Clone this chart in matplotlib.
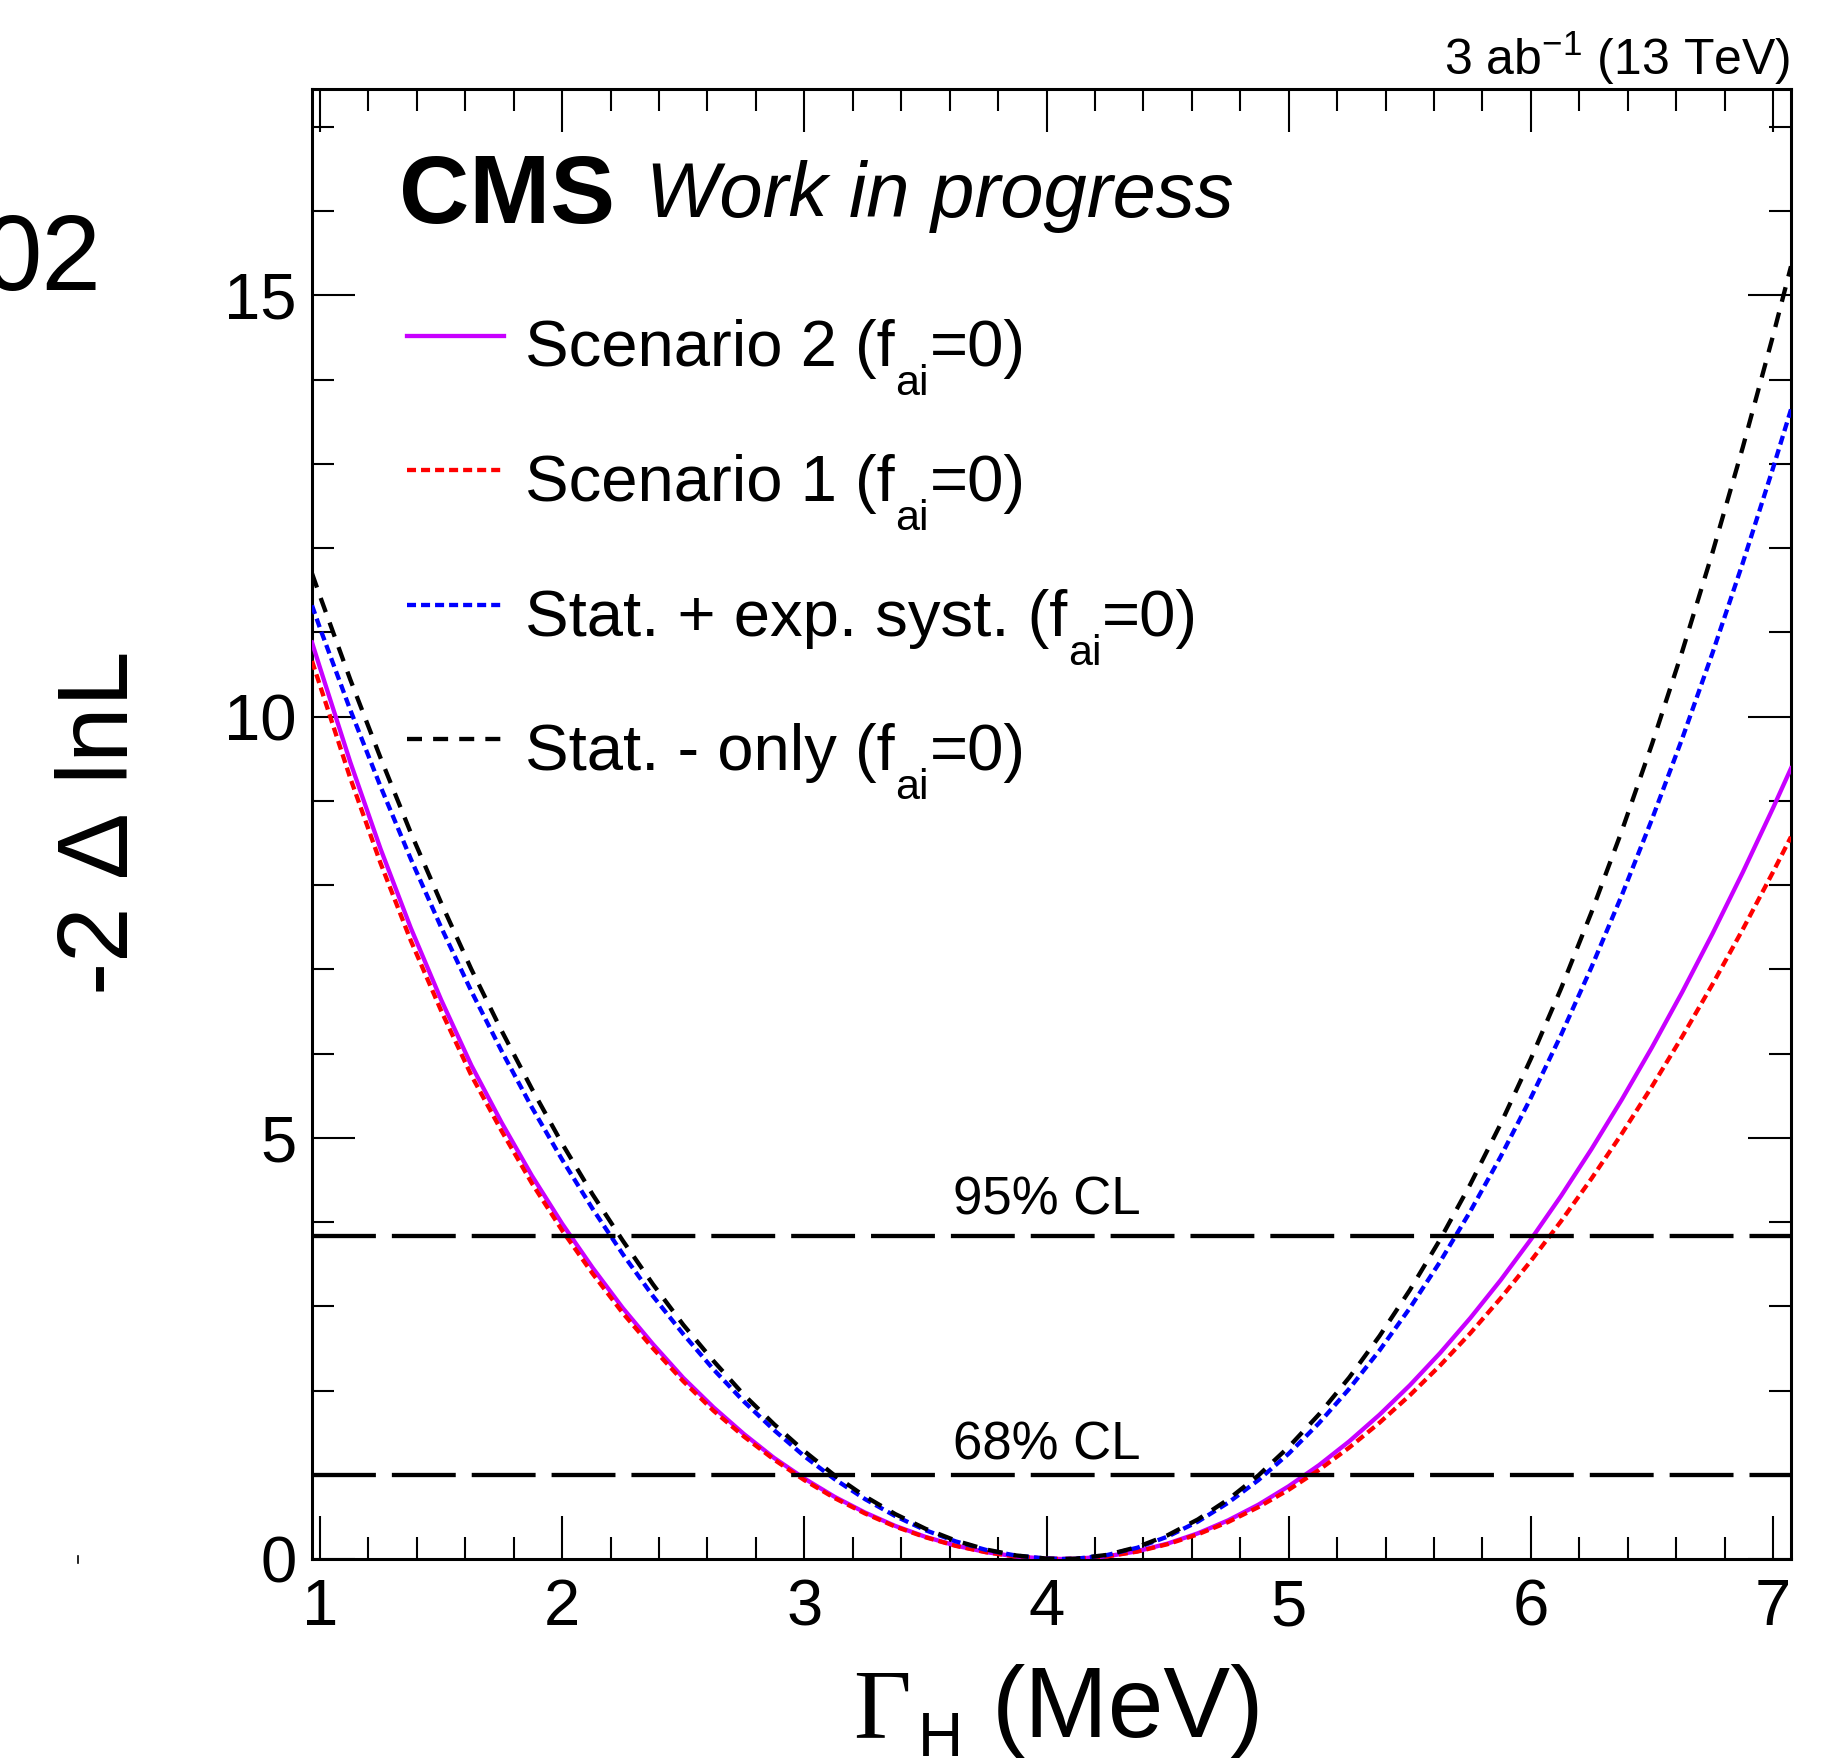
"""
-2 Delta lnL scan versus Gamma_H for the four fit scenarios (CMS style).
Output: out.png
"""

import matplotlib
import matplotlib.pyplot as plt
from matplotlib.lines import Line2D
from matplotlib.ticker import MultipleLocator

matplotlib.use("Agg")

plt.rcParams["font.family"] = ["Liberation Sans", "DejaVu Sans"]
plt.rcParams["mathtext.fontset"] = "custom"
plt.rcParams["mathtext.rm"] = "Liberation Sans"
plt.rcParams["mathtext.it"] = "Liberation Sans:italic"
plt.rcParams["mathtext.bf"] = "Liberation Sans:bold"
plt.rcParams["lines.scale_dashes"] = False

# scan points (MeV) and -2 Delta lnL values
GAMMA = [0.967, 1.0, 1.125, 1.25, 1.375, 1.5, 1.625, 1.75, 1.875, 2.0, 2.125, 2.25, 2.375,
         2.5, 2.625, 2.75, 2.875, 3.0, 3.125, 3.25, 3.375, 3.5, 3.625, 3.75, 3.875, 4.0,
         4.07, 4.125, 4.25, 4.375, 4.5, 4.625, 4.75, 4.875, 5.0, 5.125, 5.25, 5.375, 5.5,
         5.625, 5.75, 5.875, 6.0, 6.125, 6.25, 6.375, 6.5, 6.625, 6.75, 6.875, 7.0, 7.074]

SCEN2 = [10.88, 10.58, 9.46, 8.43, 7.49, 6.64, 5.86, 5.18, 4.55, 3.98, 3.46, 2.98, 2.55,
         2.15, 1.80, 1.485, 1.20, 0.955, 0.738, 0.552, 0.393, 0.263, 0.159, 0.082, 0.030, 0.004,
         0.0, 0.003, 0.032, 0.092, 0.183, 0.305, 0.459, 0.645, 0.864, 1.114, 1.397, 1.713, 2.062,
         2.445, 2.861, 3.310, 3.794, 4.312, 4.865, 5.452, 6.074, 6.731, 7.424, 8.152, 8.916, 9.386]
SCEN1 = [10.66, 10.37, 9.27, 8.26, 7.34, 6.51, 5.74, 5.08, 4.46, 3.90, 3.39, 2.92, 2.50,
         2.11, 1.76, 1.455, 1.18, 0.936, 0.723, 0.541, 0.385, 0.258, 0.156, 0.080, 0.029, 0.004,
         0.0, 0.003, 0.031, 0.088, 0.176, 0.293, 0.439, 0.616, 0.822, 1.057, 1.323, 1.618, 1.943,
         2.297, 2.681, 3.095, 3.539, 4.012, 4.515, 5.047, 5.610, 6.202, 6.823, 7.475, 8.156, 8.573]
STAT_EXP = [11.32, 11.05, 10.08, 9.17, 8.31, 7.50, 6.74, 6.03, 5.36, 4.74, 4.16, 3.62, 3.12,
            2.67, 2.25, 1.87, 1.53, 1.22, 0.948, 0.712, 0.510, 0.342, 0.209, 0.108, 0.040, 0.005,
            0.0, 0.004, 0.047, 0.134, 0.266, 0.444, 0.668, 0.937, 1.251, 1.613, 2.021, 2.476, 2.978,
            3.529, 4.128, 4.776, 5.475, 6.224, 7.024, 7.876, 8.782, 9.741, 10.756, 11.825, 12.952, 13.646]
STAT_ONLY = [11.70, 11.43, 10.44, 9.51, 8.62, 7.79, 7.00, 6.27, 5.58, 4.93, 4.33, 3.78, 3.26,
             2.78, 2.35, 1.95, 1.60, 1.28, 0.992, 0.744, 0.534, 0.359, 0.218, 0.113, 0.042, 0.005,
             0.0, 0.005, 0.049, 0.142, 0.282, 0.470, 0.707, 0.993, 1.330, 1.717, 2.155, 2.647, 3.192,
             3.792, 4.449, 5.164, 5.939, 6.776, 7.676, 8.640, 9.673, 10.775, 11.949, 13.197, 14.523, 15.345]

# legend labels split ROOT-style: head, low subscript, tail
LABEL_HEADS = ["Scenario 2 (f", "Scenario 1 (f", "Stat. + exp. syst. (f", "Stat. - only (f"]
LABEL_SUB = "ai"
LABEL_TAIL = "=0)"

CL_LEVELS = [1.0, 3.84]
CL_LABELS = ["68% CL", "95% CL"]
CL_TEXT_OFFSET = [0.18, 0.25]

MAGENTA = "#C800FF"
DOT = (0, (6.5, 3.6))
DASH = (0, (10.8, 8.0))
LW = 3.1
STYLES = [
    dict(color=MAGENTA, linestyle="-", linewidth=LW),
    dict(color="#FF0000", linestyle=DOT, linewidth=LW),
    dict(color="#0000FF", linestyle=DOT, linewidth=LW),
    dict(color="black", linestyle=DASH, linewidth=LW),
]

W, H = 1824, 1764


def main():
    fig = plt.figure(figsize=(W / 100, H / 100), dpi=100, facecolor="white")
    ax = fig.add_axes([312 / W, 1 - 1559 / H, (1791 - 312) / W, (1559 - 89) / H])

    for ys, st in zip([SCEN2, SCEN1, STAT_EXP, STAT_ONLY], STYLES):
        ax.plot(GAMMA, ys, zorder=3, **st)

    for lvl, lab, off in zip(CL_LEVELS, CL_LABELS, CL_TEXT_OFFSET):
        ax.axhline(lvl, color="black", linewidth=3.1, linestyle=(0, (46, 11.5)), zorder=4)
        ax.text(4.0, lvl + off, lab, ha="center", va="baseline", fontsize=38)

    ax.set_xlim(0.967, 7.074)
    ax.set_ylim(0, 17.45)

    ax.xaxis.set_major_locator(MultipleLocator(1))
    ax.xaxis.set_minor_locator(MultipleLocator(0.2))
    ax.yaxis.set_major_locator(MultipleLocator(5))
    ax.yaxis.set_minor_locator(MultipleLocator(1))
    ax.tick_params(which="both", direction="in", top=True, right=True, width=1.5, color="black")
    ax.tick_params(which="major", length=31, labelsize=47)
    ax.tick_params(which="minor", length=15.5)
    ax.tick_params(axis="x", which="major", pad=14)
    ax.tick_params(axis="y", which="major", pad=11)
    for spine in ax.spines.values():
        spine.set_linewidth(2.2)

    # legend, drawn by hand like the ROOT TLegend
    for i, (head, st) in enumerate(zip(LABEL_HEADS, STYLES)):
        y = 0.8323 - i * 0.0916
        ax.plot([0.0642, 0.1298], [y, y], transform=ax.transAxes, clip_on=False, **st)
        t1 = ax.text(0.1440, y - 0.021, head, transform=ax.transAxes, ha="left", va="baseline", fontsize=47)
        t2 = ax.annotate(LABEL_SUB, xy=(1, 0), xycoords=t1, xytext=(0.5, -11.5),
                         textcoords="offset points", ha="left", va="baseline", fontsize=31)
        ax.annotate(LABEL_TAIL, xy=(1, 0), xycoords=(t2, t1), xytext=(0.5, 0),
                    textcoords="offset points", ha="left", va="bottom", fontsize=47)

    ax.text(0.0588, 0.9088, "CMS", transform=ax.transAxes, fontsize=70, fontweight="bold",
            ha="left", va="baseline")
    ax.text(0.2258, 0.9129, "Work in progress", transform=ax.transAxes, fontsize=56,
            style="italic", ha="left", va="baseline")

    fig.text(1790 / W, 1 - 75 / H, r"3 ab$^{\mathrm{-1}}$ (13 TeV)", ha="right", va="baseline", fontsize=36)
    fig.text(149 / W, 0.5329, r"-2 $\Delta$ lnL", rotation=90, ha="right", va="center", fontsize=72)

    # x title: serif Gamma, sans subscript, sans unit
    fig.text(853 / W, 1 - 1737 / H, "\u0393", family="Liberation Serif", ha="left", va="baseline", fontsize=72)
    fig.text(918 / W, 1 - 1756 / H, "H", ha="left", va="baseline", fontsize=45)
    fig.text(992 / W, 1 - 1737 / H, "(MeV)", ha="left", va="baseline", fontsize=72)

    # leftovers from the original canvas
    fig.text(102 / W, 1 - 290 / H, "02", ha="right", va="baseline", fontsize=77)
    fig.add_artist(Line2D([78 / W, 78 / W], [1 - 1556 / H, 1 - 1563 / H],
                          transform=fig.transFigure, color="black", linewidth=1.2))

    fig.savefig("out.png", dpi=100, facecolor="white")
    plt.close(fig)


if __name__ == "__main__":
    main()
